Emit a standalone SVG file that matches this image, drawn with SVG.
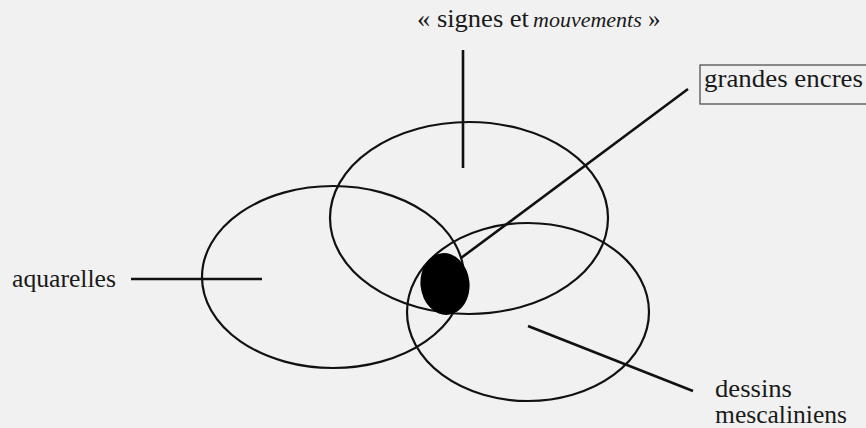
<svg xmlns="http://www.w3.org/2000/svg" width="866" height="428" viewBox="0 0 866 428">
<style>
.lbl{font-family:"Liberation Serif","Times New Roman",serif;font-size:25px;fill:#1a1a1a}
.it{font-style:italic;font-size:22px}
.ell{fill:none;stroke:#111;stroke-width:2.2}
.conn{stroke:#111;stroke-width:2.6;stroke-linecap:butt;fill:none}
</style>
<rect x="0" y="0" width="866" height="428" fill="#f1f1f1"/>
<g id="ellipses">
<g id="signes-mouvements-set"><ellipse class="ell" cx="469" cy="218" rx="139" ry="96"/></g>
<g id="aquarelles-set"><ellipse class="ell" cx="333" cy="277" rx="131" ry="91"/></g>
<g id="dessins-set"><ellipse class="ell" cx="528" cy="312" rx="121" ry="89"/></g>
<g id="core"><ellipse cx="445" cy="284" rx="24.5" ry="31" fill="#000" transform="rotate(-6 445 284)"/></g>
</g>
<g id="connectors">
<line class="conn" x1="463" y1="50" x2="463" y2="168"/>
<line class="conn" x1="131" y1="279" x2="262" y2="279"/>
<line class="conn" x1="461" y1="258" x2="688" y2="89"/>
<line class="conn" x1="528" y1="326" x2="693" y2="391"/>
</g>
<g id="label-signes">
<text class="lbl" x="417" y="27" textLength="112" lengthAdjust="spacingAndGlyphs">« signes et</text>
<text class="lbl it" x="533" y="27">mouvements</text>
<text class="lbl" x="648" y="27">»</text>
</g>
<g id="label-grandes">
<rect x="700" y="65" width="175" height="39" fill="none" stroke="#444" stroke-width="1.2"/>
<text class="lbl" x="704" y="87" textLength="159" lengthAdjust="spacingAndGlyphs">grandes encres</text>
</g>
<g id="label-aquarelles">
<text class="lbl" x="12" y="287" textLength="104" lengthAdjust="spacingAndGlyphs">aquarelles</text>
</g>
<g id="label-dessins">
<text class="lbl" x="715" y="397" textLength="77" lengthAdjust="spacingAndGlyphs">dessins</text>
<text class="lbl" x="715" y="423" textLength="132" lengthAdjust="spacingAndGlyphs">mescaliniens</text>
</g>
</svg>
